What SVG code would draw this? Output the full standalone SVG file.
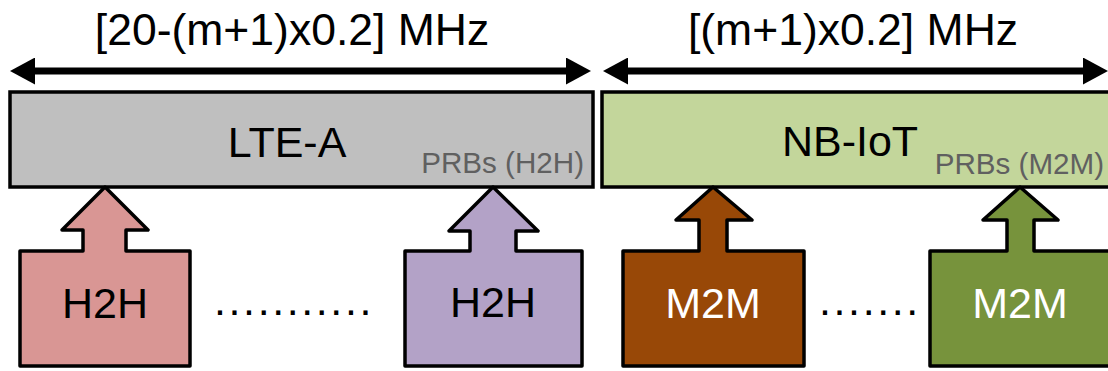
<svg xmlns="http://www.w3.org/2000/svg" width="1108" height="371" viewBox="0 0 1108 371">
<defs>
<style>
text{font-family:"Liberation Sans",Arial,sans-serif;}
.band{stroke:#000;stroke-width:3.5;}
.ue{stroke:#000;stroke-width:3.5;stroke-linejoin:round;}
.big{font-size:44.5px;fill:#000;text-anchor:middle;}
.lbl{font-size:43px;text-anchor:middle;}
.prb{font-size:29.6px;fill:#606060;text-anchor:end;}
.dots{font-size:43px;fill:#000;letter-spacing:2.6px;}
.span{stroke:#000;stroke-width:7;fill:none;marker-start:url(#ah);marker-end:url(#ah);}
</style>
<marker id="ah" markerUnits="userSpaceOnUse" markerWidth="26" markerHeight="27" refX="13" refY="13.5" orient="auto-start-reverse" viewBox="0 0 26 27">
<path d="M0,0 L25,13.5 L0,27 Z" fill="#000"/>
</marker>
</defs>
<g id="connectors">
<line class="span" x1="22" y1="71" x2="579" y2="71"/>
<line class="span" x1="615" y1="71" x2="1096" y2="71"/>
</g>
<g id="label-lte-width">
<text class="big" x="292" y="45">[20-(m+1)x0.2] MHz</text>
</g>
<g id="label-nb-width">
<text class="big" x="853" y="45">[(m+1)x0.2] MHz</text>
</g>
<g id="lte-a">
<rect class="band" x="10" y="92" width="583" height="95" fill="#bfbfbf"/>
<text class="lbl" x="287" y="157" fill="#000">LTE-A</text>
<text class="prb" x="584" y="173">PRBs (H2H)</text>
</g>
<g id="nb-iot">
<rect class="band" x="602" y="92" width="512" height="95" fill="#c3d69b"/>
<text class="lbl" x="850" y="156" fill="#000">NB-IoT</text>
<text class="prb" x="1104" y="174">PRBs (M2M)</text>
</g>
<g id="h2h-1">
<path class="ue" fill="#d99694" d="M20,251 L83,251 L83,230 L62,230 L105,187 L148,230 L126,230 L126,251 L190,251 L190,366 L20,366 Z"/>
<text class="lbl" x="105" y="318" fill="#000">H2H</text>
</g>
<g id="dots-h2h">
<text class="dots" x="214" y="315">...........</text>
</g>
<g id="h2h-2">
<path class="ue" fill="#b3a2c7" d="M405,251 L470,251 L470,231 L449,231 L493,187 L538,231 L516,231 L516,251 L582,251 L582,366 L405,366 Z"/>
<text class="lbl" x="493" y="317" fill="#000">H2H</text>
</g>
<g id="m2m-1">
<path class="ue" fill="#984807" d="M623,251 L699,251 L699,220 L676,220 L713,187 L752,220 L727,220 L727,251 L804,251 L804,366 L623,366 Z"/>
<text class="lbl" x="713" y="318" fill="#fff">M2M</text>
</g>
<g id="dots-m2m">
<text class="dots" x="819" y="315">.......</text>
</g>
<g id="m2m-2">
<path class="ue" fill="#77933c" d="M930,251 L1007,251 L1007,220 L983,220 L1020,187 L1058,220 L1034,220 L1034,251 L1112,251 L1112,366 L930,366 Z"/>
<text class="lbl" x="1020" y="318" fill="#fff">M2M</text>
</g>
</svg>
